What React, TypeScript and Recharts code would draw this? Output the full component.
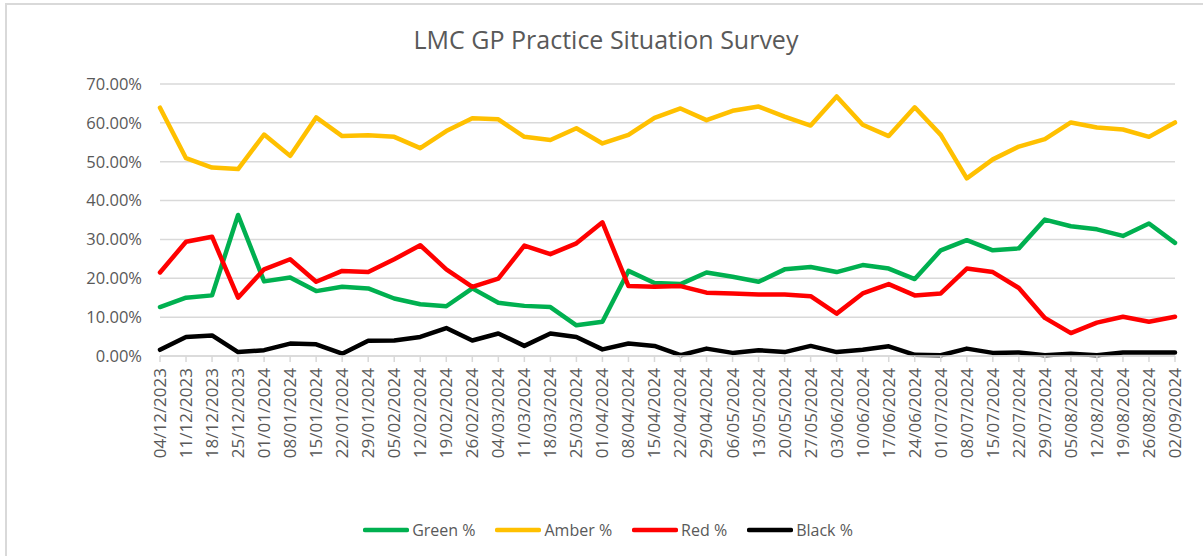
import React from 'react';
import { LineChart, Line, XAxis, YAxis, CartesianGrid, Legend } from 'recharts';

const dates = [
  '04/12/2023', '11/12/2023', '18/12/2023', '25/12/2023', '01/01/2024', '08/01/2024',
  '15/01/2024', '22/01/2024', '29/01/2024', '05/02/2024', '12/02/2024', '19/02/2024',
  '26/02/2024', '04/03/2024', '11/03/2024', '18/03/2024', '25/03/2024', '01/04/2024',
  '08/04/2024', '15/04/2024', '22/04/2024', '29/04/2024', '06/05/2024', '13/05/2024',
  '20/05/2024', '27/05/2024', '03/06/2024', '10/06/2024', '17/06/2024', '24/06/2024',
  '01/07/2024', '08/07/2024', '15/07/2024', '22/07/2024', '29/07/2024', '05/08/2024',
  '12/08/2024', '19/08/2024', '26/08/2024', '02/09/2024'
];

const green = [
  12.6, 15.0, 15.6, 36.3, 19.2, 20.2, 16.7, 17.8, 17.4, 14.8, 13.3, 12.8, 17.4, 13.7,
  12.9, 12.6, 7.9, 8.8, 21.9, 18.8, 18.5, 21.5, 20.4, 19.1, 22.3, 22.9, 21.6, 23.4,
  22.5, 19.8, 27.2, 29.8, 27.2, 27.7, 35.1, 33.4, 32.6, 30.9, 34.1, 29.1
];
const amber = [
  63.9, 50.9, 48.5, 48.1, 57.0, 51.5, 61.4, 56.6, 56.8, 56.4, 53.5, 57.9, 61.2, 60.9,
  56.4, 55.6, 58.6, 54.7, 56.9, 61.3, 63.7, 60.7, 63.1, 64.2, 61.6, 59.3, 66.8, 59.5,
  56.6, 64.0, 56.9, 45.7, 50.6, 53.9, 55.8, 60.1, 58.8, 58.3, 56.4, 60.1
];
const red = [
  21.5, 29.4, 30.7, 15.0, 22.3, 24.9, 19.1, 21.9, 21.6, 24.9, 28.5, 22.3, 17.8, 19.9,
  28.4, 26.2, 29.0, 34.4, 18.0, 17.8, 18.0, 16.3, 16.1, 15.8, 15.8, 15.4, 10.9, 16.1,
  18.5, 15.6, 16.1, 22.5, 21.6, 17.5, 9.8, 5.9, 8.6, 10.1, 8.8, 10.1
];
const black = [
  1.6, 4.9, 5.3, 1.0, 1.5, 3.2, 3.0, 0.6, 3.9, 4.0, 4.9, 7.2, 4.0, 5.8, 2.6, 5.8, 4.9,
  1.7, 3.2, 2.6, 0.2, 1.9, 0.8, 1.5, 1.0, 2.6, 1.0, 1.6, 2.5, 0.3, 0.2, 1.9, 0.8, 0.9,
  0.2, 0.6, 0.2, 0.9, 0.9, 0.9
];

const yTicks = [0, 10, 20, 30, 40, 50, 60, 70];

const series = [
  { key: 'green', name: 'Green %', color: '#00B050' },
  { key: 'amber', name: 'Amber %', color: '#FFC000' },
  { key: 'red', name: 'Red %', color: '#FF0000' },
  { key: 'black', name: 'Black %', color: '#000000' }
];

const data = dates.map((date, i) => ({
  date,
  green: green[i],
  amber: amber[i],
  red: red[i],
  black: black[i]
}));

const FONT = '"Open Sans", sans-serif';
const TEXT = '#595959';
const GRID = '#D9D9D9';

const DateTick = (props: any) => {
  const { x, y, payload } = props;
  return (
    <g transform={`translate(${x},${y})`}>
      <text
        transform="rotate(-90)"
        textAnchor="end"
        dy="0.35em"
        fill={TEXT}
        fontSize={17}
        fontFamily={FONT}
      >
        {payload.value}
      </text>
    </g>
  );
};

const renderLegend = () => (
  <div style={{ display: 'flex', justifyContent: 'center', fontFamily: FONT, fontSize: 16, color: TEXT }}>
    {series.map((s) => (
      <div key={s.key} style={{ display: 'flex', alignItems: 'center', margin: '0 10px' }}>
        <svg width={46} height={10} style={{ marginRight: 3 }}>
          <line x1={2} y1={5} x2={44} y2={5} stroke={s.color} strokeWidth={4.5} strokeLinecap="round" />
        </svg>
        <span>{s.name}</span>
      </div>
    ))}
  </div>
);

export default function App() {
  return (
    <div style={{ position: 'absolute', left: 0, top: 0, width: 1203, height: 556, overflow: 'hidden', background: '#fff' }}>
      <div
        style={{
          position: 'absolute',
          left: 5,
          top: 3,
          width: 1400,
          height: 800,
          border: `2px solid ${GRID}`
        }}
      />
      <div
        style={{
          position: 'absolute',
          left: 0,
          top: 22,
          width: 1212,
          textAlign: 'center',
          fontFamily: FONT,
          fontSize: 25,
          color: TEXT
        }}
      >
        LMC GP Practice Situation Survey
      </div>
      <div style={{ position: 'absolute', left: 0, top: 0 }}>
        <LineChart width={1203} height={556} data={data} margin={{ top: 84, right: 28, bottom: 0, left: 0 }}>
          <CartesianGrid vertical={false} stroke={GRID} strokeWidth={1.5} />
          <XAxis
            dataKey="date"
            interval={0}
            height={200}
            tick={<DateTick />}
            tickSize={6}
            tickMargin={6}
            axisLine={{ stroke: GRID, strokeWidth: 1.5 }}
            tickLine={{ stroke: GRID, strokeWidth: 1.5 }}
          />
          <YAxis
            width={160}
            domain={[0, 70]}
            ticks={yTicks}
            tickFormatter={(v: number) => `${v.toFixed(2)}%`}
            axisLine={false}
            tickLine={false}
            tickSize={0}
            tickMargin={18}
            tick={{ fill: TEXT, fontSize: 16.5, fontFamily: FONT }}
          />
          <Legend
            verticalAlign="middle"
            align="center"
            content={renderLegend}
            wrapperStyle={{ top: 519, left: 0, width: 1216 }}
          />
          {series.map((s) => (
            <Line
              key={s.key}
              type="linear"
              dataKey={s.key}
              name={s.name}
              stroke={s.color}
              strokeWidth={4.5}
              strokeLinejoin="round"
              strokeLinecap="round"
              dot={false}
              isAnimationActive={false}
            />
          ))}
        </LineChart>
      </div>
    </div>
  );
}
